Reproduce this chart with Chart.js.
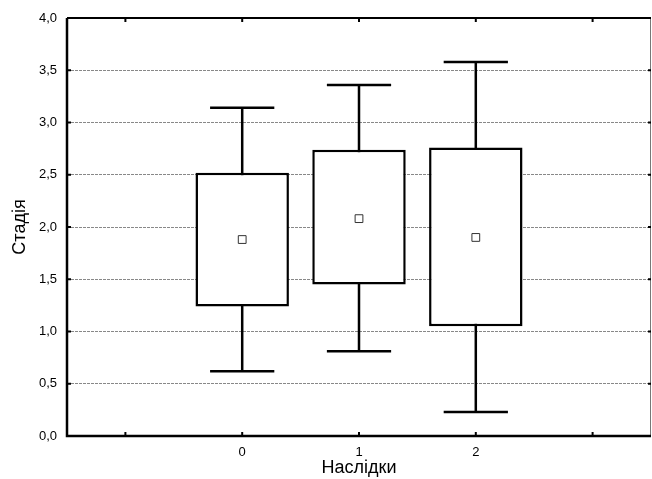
<!DOCTYPE html>
<html>
<head>
<meta charset="utf-8">
<script src="https://cdn.jsdelivr.net/npm/chart.js@4"></script>
<style>
  body { margin: 0; background: #fff; }
  canvas { display: block; }
</style>
</head>
<body>
<canvas id="grafico" width="652" height="479"></canvas>
<script>
// categorias (as posições vazias nas pontas são só espaço)
const categorias = ['', '0', '1', '2', ''];
const quartil1 = [null, 1.24, 1.45, 1.05, null];
const quartil3 = [null, 2.52, 2.74, 2.76, null];
const bigodeMin = [null, 0.62, 0.81, 0.23, null];
const bigodeMax = [null, 3.14, 3.36, 3.58, null];
const medias = [null, 1.88, 2.08, 1.90, null];
const ticksY = [0, 0.5, 1, 1.5, 2, 2.5, 3, 3.5, 4];

const caixas = quartil1.map((q, i) => q === null ? null : [q, quartil3[i]]);

const fonte = 'Liberation Sans, Arial, sans-serif';

// desenha os bigodes antes das caixas (a caixa branca cobre o meio)
const bigodes = {
    id: 'bigodes',
    beforeDatasetsDraw(chart) {
        const ctx = chart.ctx;
        const x = chart.scales.x;
        const y = chart.scales.y;
        const passo = x.getPixelForValue(1) - x.getPixelForValue(0);
        const meia = passo * 0.55 / 2;
        ctx.save();
        ctx.strokeStyle = '#000';
        ctx.lineWidth = 2.5;
        bigodeMin.forEach((lo, i) => {
            if (lo === null) return;
            const cx = x.getPixelForValue(i);
            const yLo = y.getPixelForValue(lo);
            const yHi = y.getPixelForValue(bigodeMax[i]);
            ctx.beginPath();
            ctx.moveTo(cx, yLo);
            ctx.lineTo(cx, yHi);
            ctx.moveTo(cx - meia, yLo);
            ctx.lineTo(cx + meia, yLo);
            ctx.moveTo(cx - meia, yHi);
            ctx.lineTo(cx + meia, yHi);
            ctx.stroke();
        });
        ctx.restore();
    }
};

// moldura e marcas de escala para dentro
const moldura = {
    id: 'moldura',
    afterDraw(chart) {
        const ctx = chart.ctx;
        const a = chart.chartArea;
        const x = chart.scales.x;
        const y = chart.scales.y;
        ctx.save();
        ctx.strokeStyle = '#777';
        ctx.lineWidth = 1;
        ctx.beginPath();
        ctx.moveTo(a.right - 0.5, a.top);
        ctx.lineTo(a.right - 0.5, a.bottom);
        ctx.stroke();

        ctx.strokeStyle = '#000';
        ctx.lineWidth = 2.5;
        ctx.beginPath();
        ctx.moveTo(a.left, a.top);
        ctx.lineTo(a.left, a.bottom);
        ctx.lineTo(a.right, a.bottom);
        ctx.stroke();
        ctx.lineWidth = 2;
        ctx.beginPath();
        ctx.moveTo(a.left, a.top);
        ctx.lineTo(a.right, a.top);
        ctx.stroke();

        ticksY.forEach(v => {
            const py = y.getPixelForValue(v);
            ctx.beginPath();
            ctx.moveTo(a.left, py);
            ctx.lineTo(a.left + 4, py);
            ctx.moveTo(a.right - 3, py);
            ctx.lineTo(a.right, py);
            ctx.stroke();
        });
        categorias.forEach((c, i) => {
            const px = x.getPixelForValue(i);
            ctx.beginPath();
            ctx.moveTo(px, a.bottom);
            ctx.lineTo(px, a.bottom - 4);
            ctx.moveTo(px, a.top);
            ctx.lineTo(px, a.top + 4);
            ctx.stroke();
        });
        ctx.restore();
    }
};

const grafico = new Chart(document.getElementById('grafico'), {
    data: {
        labels: categorias,
        datasets: [{
            type: 'bar',
            data: caixas,
            backgroundColor: '#fff',
            borderColor: '#000',
            borderWidth: 2.5,
            borderSkipped: false,
            categoryPercentage: 1,
            barPercentage: 0.8,
            order: 2
        }, {
            type: 'line',
            data: medias,
            showLine: false,
            pointStyle: 'rect',
            pointRadius: 5.5,
            pointBorderWidth: 1,
            pointBorderColor: '#333',
            pointBackgroundColor: '#fff',
            order: 1
        }]
    },
    options: {
        responsive: false,
        animation: false,
        layout: {
            autoPadding: false,
            padding: { top: 18, right: 1, left: 0, bottom: 0 }
        },
        plugins: {
            legend: { display: false },
            tooltip: { enabled: false }
        },
        scales: {
            x: {
                type: 'category',
                offset: true,
                grid: { display: false, drawTicks: false },
                border: { display: false },
                ticks: {
                    padding: 9,
                    color: '#000',
                    font: { family: fonte, size: 13 }
                },
                title: {
                    display: true,
                    text: 'Наслідки',
                    color: '#000',
                    padding: { top: 0, bottom: 0 },
                    font: { family: fonte, size: 18 }
                },
                afterFit: s => {
                    s.height = 43;
                    s.paddingLeft = 0;
                    s.paddingRight = 0;
                }
            },
            y: {
                min: 0,
                max: 4,
                afterBuildTicks: s => { s.ticks = ticksY.map(v => ({ value: v })); },
                grid: {
                    drawTicks: false,
                    lineWidth: 1,
                    color: c => (c.tick && (c.tick.value === 0 || c.tick.value === 4)) ? 'rgba(0,0,0,0)' : '#888'
                },
                border: { display: false, dash: [3, 1] },
                ticks: {
                    padding: 10,
                    color: '#000',
                    font: { family: fonte, size: 13 },
                    callback: v => v.toFixed(1).replace('.', ',')
                },
                title: {
                    display: true,
                    text: 'Стадія',
                    color: '#000',
                    padding: { top: 9, bottom: 0 },
                    font: { family: fonte, size: 18 }
                },
                afterFit: s => {
                    s.width = 67;
                    s.paddingTop = 0;
                    s.paddingBottom = 0;
                }
            }
        }
    },
    plugins: [bigodes, moldura]
});
</script>
</body>
</html>
